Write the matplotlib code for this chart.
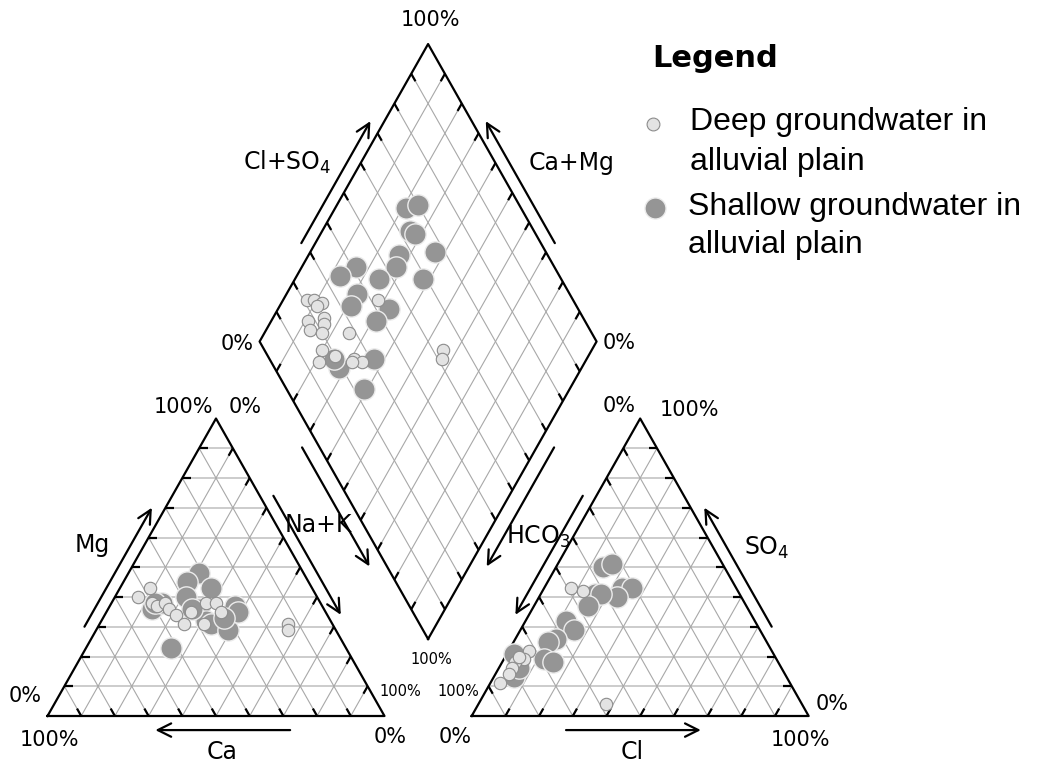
import numpy as np
import matplotlib.pyplot as plt
from matplotlib.collections import LineCollection

# Piper diagram: cation triangle (left), anion triangle (right), diamond (top)
H = np.sqrt(3) / 2
GAP = 0.2588
ANION_X0 = 1 + GAP
BX, BY = 1 + GAP / 2, GAP * H
TL = 0.025  # tick length

# cation triangle, percent of meq: Mg and Na+K (Ca = rest)
shallow_mg = [48, 45, 43, 40, 36, 32, 31, 29, 37, 35, 36, 38, 23, 36, 33, 38]
shallow_nak = [21, 19, 27, 21, 27, 31, 33, 39, 37, 39, 13, 15, 25, 25, 36, 13]
deep_mg = [40, 43, 38, 37, 38, 36, 34, 31, 35, 38, 38, 35, 31, 31, 29]
deep_nak = [7, 9, 12, 14, 16, 18, 21, 25, 25, 28, 31, 34, 31, 56, 57]

# anion triangle: SO4 and Cl (HCO3 = rest)
shallow_so4 = [50, 51, 43, 43, 40, 41, 41, 37, 32, 29, 26, 25, 19, 18, 21, 13, 16]
shallow_cl = [14, 16, 23, 26, 23, 16, 18, 16, 12, 16, 12, 10, 12, 15, 2, 6, 6]
deep_so4 = [43, 42, 22, 19, 18, 16, 14, 11, 20, 4]
deep_cl = [8, 12, 6, 6, 4, 4, 4, 3, 4, 38]

# diamond: Cl+SO4 and Ca+Mg
shallow_clso4 = [66, 70, 63, 64, 67, 56, 53, 41, 35, 46, 59, 37, 33, 44, 38, 31, 19, 23, 19]
shallow_camg = [79, 76, 74, 72, 63, 73, 72, 84, 87, 75, 62, 79, 79, 67, 69, 63, 72, 61, 75]
deep_clso4 = [21, 23, 25, 23, 18, 17, 22, 20, 28, 42, 17, 14, 20, 25, 27, 24, 53, 51, 23]
deep_camg = [93, 91, 88, 85, 89, 87, 84, 83, 75, 72, 80, 79, 75, 69, 66, 69, 44, 43, 89]


def cation_xy(mg, nak):
    mg, nak = np.asarray(mg) / 100, np.asarray(nak) / 100
    return nak + mg / 2, H * mg


def anion_xy(so4, cl):
    so4, cl = np.asarray(so4) / 100, np.asarray(cl) / 100
    return ANION_X0 + cl + so4 / 2, H * so4


def diamond_xy(a, c):
    a, c = np.asarray(a) / 100, np.asarray(c) / 100
    return BX + (a - c) / 2, BY + H * (a + c)


fig = plt.figure(figsize=(10.51, 7.69), dpi=100)
ax = fig.add_axes([0, 0, 1, 1])
ax.set_xlim(-0.141, 2.978)
ax.set_ylim(-0.1543, 2.0844)
ax.axis('off')

fracs = np.arange(1, 10) / 10

# grid lines
hsegs, dsegs = [], []
for ox in (0, ANION_X0):
    for f in fracs:
        hsegs.append([(ox + f / 2, H * f), (ox + 1 - f / 2, H * f)])
        dsegs.append([(ox + f, 0), (ox + (1 + f) / 2, H * (1 - f))])
        dsegs.append([(ox + f, 0), (ox + f / 2, H * f)])
for p in fracs * 100:
    dsegs.append(list(zip(*diamond_xy([p, p], [0, 100]))))
    dsegs.append(list(zip(*diamond_xy([0, 100], [p, p]))))
ax.add_collection(LineCollection(hsegs, colors='#c8c8c8', linewidths=1.3, zorder=1))
ax.add_collection(LineCollection(dsegs, colors='#a8a8a8', linewidths=0.8, zorder=1))

# outlines
for ox in (0, ANION_X0):
    ax.plot([ox, ox + 1, ox + 0.5, ox], [0, 0, H, 0], color='black', lw=1.6, zorder=2)
dx, dy = diamond_xy([0, 100, 100, 0, 0], [0, 0, 100, 100, 0])
ax.plot(dx, dy, color='black', lw=1.6, zorder=2)

# ticks at every 10 %
tsegs = []
up_l, up_r = np.array([-0.5, H]), np.array([0.5, H])
dn_l, dn_r = np.array([-0.5, -H]), np.array([0.5, -H])
right, left = np.array([1.0, 0]), np.array([-1.0, 0])
for f in fracs:
    for p, d in [
        ((f / 2, H * f), right),                      # Mg
        ((f, 0), up_l),                               # Ca
        ((1 - f / 2, H * f), dn_l),                   # Na+K
        ((ANION_X0 + 1 - f / 2, H * f), left),        # SO4
        ((ANION_X0 + f, 0), up_r),                    # Cl
        ((ANION_X0 + f / 2, H * f), dn_r),            # HCO3
        (diamond_xy(f * 100, 100), dn_r),             # Cl+SO4
        (diamond_xy(100, f * 100), dn_l),             # Ca+Mg
        (diamond_xy(0, f * 100), up_r),
        (diamond_xy(f * 100, 0), up_l),
    ]:
        p = np.array(p, dtype=float)
        tsegs.append([p, p + TL * d])
ax.add_collection(LineCollection(tsegs, colors='black', linewidths=1.6, zorder=2))


def edge_arrow(p0, p1, t0, t1, off, centre):
    p0, p1 = np.array(p0, dtype=float), np.array(p1, dtype=float)
    d = p1 - p0
    n = np.array([-d[1], d[0]]) / np.hypot(*d)
    if np.dot(n, p0 + d / 2 - np.asarray(centre)) < 0:
        n = -n
    ax.annotate('', xy=p0 + t1 * d + off * n, xytext=p0 + t0 * d + off * n,
                arrowprops=dict(arrowstyle='->', lw=1.6, color='black',
                                mutation_scale=24, shrinkA=0, shrinkB=0))


cc = (0.5, H / 3)
ac = (ANION_X0 + 0.5, H / 3)
dc = (BX, BY + H)
L = diamond_xy(0, 100)
R = diamond_xy(100, 0)
T = diamond_xy(100, 100)
B = diamond_xy(0, 0)
edge_arrow((0, 0), (0.5, H), 0.28, 0.68, 0.035, cc)
edge_arrow((0.5, H), (1, 0), 0.28, 0.68, 0.035, cc)
edge_arrow((1, 0), (0, 0), 0.28, 0.68, 0.041, cc)
edge_arrow((ANION_X0 + 0.5, H), (ANION_X0, 0), 0.28, 0.68, 0.035, ac)
edge_arrow((ANION_X0 + 1, 0), (ANION_X0 + 0.5, H), 0.28, 0.68, 0.035, ac)
edge_arrow((ANION_X0, 0), (ANION_X0 + 1, 0), 0.28, 0.68, 0.041, ac)
edge_arrow(L, T, 0.31, 0.72, 0.036, dc)
edge_arrow(R, T, 0.31, 0.72, 0.036, dc)
edge_arrow(L, B, 0.33, 0.73, 0.045, dc)
edge_arrow(R, B, 0.33, 0.73, 0.045, dc)

# samples
shallow_style = dict(s=235, c='#959595', edgecolors='#ececec', linewidths=1.0, zorder=3)
deep_style = dict(s=80, c='#e3e3e3', edgecolors='#8c8c8c', linewidths=0.8, zorder=4)
ax.scatter(*cation_xy(shallow_mg, shallow_nak), **shallow_style)
ax.scatter(*anion_xy(shallow_so4, shallow_cl), **shallow_style)
ax.scatter(*diamond_xy(shallow_clso4, shallow_camg), **shallow_style)
ax.scatter(*cation_xy(deep_mg, deep_nak), **deep_style)
ax.scatter(*anion_xy(deep_so4, deep_cl), **deep_style)
ax.scatter(*diamond_xy(deep_clso4, deep_camg), **deep_style)

# percent labels
pct = [
    ('100%', T[0] + 0.008, T[1] + 0.07, 15), ('0%', L[0] - 0.067, L[1] - 0.007, 15),
    ('0%', R[0] + 0.067, R[1] - 0.004, 15), ('100%', B[0] + 0.01, B[1] - 0.061, 10.5),
    ('100%', 0.402, 0.90, 15), ('0%', 0.586, 0.90, 15),
    ('0%', -0.067, 0.058, 15), ('100%', 0.007, -0.07, 15),
    ('100%', 1.046, 0.07, 10.5), ('0%', 1.016, -0.061, 15),
    ('0%', 1.696, 0.9025, 15), ('100%', 1.906, 0.891, 15),
    ('100%', 1.218, 0.07, 10.5), ('0%', 1.209, -0.061, 15),
    ('0%', 2.328, 0.035, 15), ('100%', 2.233, -0.07, 15),
]
for txt, x, y, fs in pct:
    ax.text(x, y, txt, fontsize=fs, ha='center', va='center', zorder=5)

axis_labels = [
    ('Cl+SO$_4$', 0.711, 1.613), ('Ca+Mg', 1.556, 1.61),
    ('Mg', 0.132, 0.498), ('Na+K', 0.803, 0.556), ('Ca', 0.518, -0.105),
    ('HCO$_3$', 1.455, 0.521), ('SO$_4$', 2.135, 0.489), ('Cl', 1.734, -0.105),
]
for txt, x, y in axis_labels:
    ax.text(x, y, txt, fontsize=17, ha='center', va='center', zorder=5)

# legend
fig.text(0.6204, 0.9133, 'Legend', fontsize=22, fontweight='heavy', va='baseline')
fig.text(0.6565, 0.8309, 'Deep groundwater in', fontsize=23, family='Liberation Sans', va='baseline')
fig.text(0.6565, 0.7789, 'alluvial plain', fontsize=23, family='Liberation Sans', va='baseline')
fig.text(0.6546, 0.7204, 'Shallow groundwater in', fontsize=23, family='Liberation Sans', va='baseline')
fig.text(0.6546, 0.6710, 'alluvial plain', fontsize=23, family='Liberation Sans', va='baseline')
ax.scatter([0.621], [0.8384], s=85, c='#e3e3e3', edgecolors='#8c8c8c', linewidths=0.8,
           transform=ax.transAxes, clip_on=False)
ax.scatter([0.6232], [0.7291], s=230, c='#959595', edgecolors='#ececec', linewidths=1.0,
           transform=ax.transAxes, clip_on=False)

fig.savefig('out.png', dpi=100)
